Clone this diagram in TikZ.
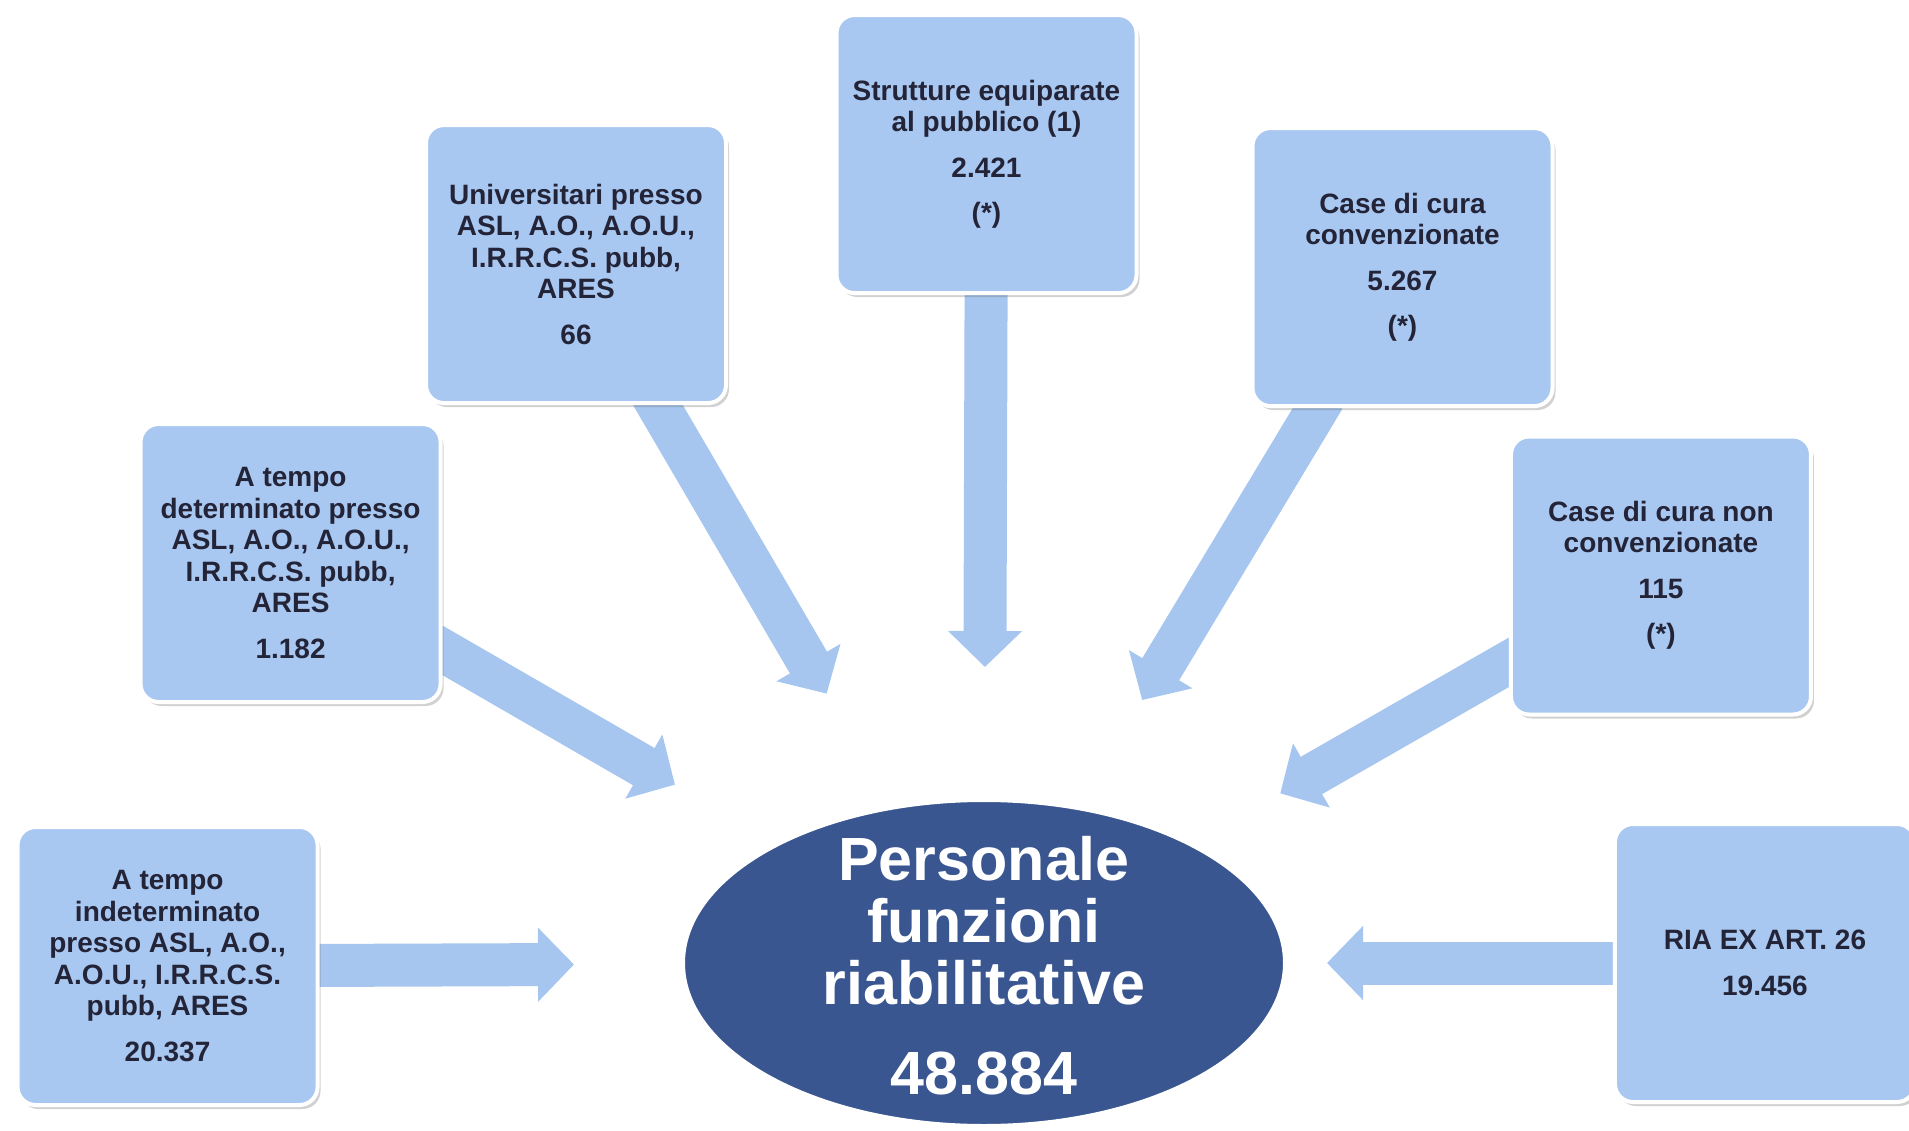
\documentclass[tikz,border=0pt]{standalone}
\usepackage{fontspec}
\setmainfont{Liberation Sans}
\usepackage{tikz}
\usetikzlibrary{shapes.geometric,arrows.meta,shadows,backgrounds}

\definecolor{boxblue}{RGB}{169,200,241}
\definecolor{arrowblue}{RGB}{166,198,240}
\definecolor{hubblue}{RGB}{58,86,145}
\definecolor{inkblue}{RGB}{36,36,56}

\tikzset{
  src/.style={rectangle, rounded corners=18pt, fill=boxblue, draw=white, line width=4pt,
    minimum width=300pt, minimum height=278pt, align=center, text=inkblue,
    font=\fontsize{28}{31.5}\selectfont\bfseries,
    drop shadow={shadow xshift=3pt, shadow yshift=-4pt, opacity=.3, fill=black!60}},
  hub/.style={ellipse, fill=hubblue, draw=white, line width=2pt,
    minimum width=600pt, minimum height=324pt},
  hubtext/.style={align=center, text=white, font=\fontsize{61}{62}\selectfont\bfseries},
  flow/.style={arrowblue, line width=43pt, -{Triangle[length=36pt,width=72pt]}, shorten <=-12pt}
}

\begin{document}
\begin{tikzpicture}[x=1pt,y=-1pt]
      \useasboundingbox (0,0) rectangle (1909,1131);

      \node[hub] (0) at (984,963) {};
      \node[hubtext, yshift=-3pt] (0t) at (0) {Personale\\funzioni\\riabilitative\\[28pt]48.884};

      \node[src, left of=0, xshift=-788pt, yshift=-3pt] (1) {A tempo\\indeterminato\\presso ASL, A.O.,\\A.O.U., I.R.R.C.S.\\pubb, ARES\\[14pt]20.337};
      \node[src, left of=0, xshift=-665pt, yshift=400pt] (2) {A tempo\\determinato presso\\ASL, A.O., A.O.U.,\\I.R.R.C.S. pubb,\\ARES\\[14pt]1.182};
      \node[src, above of=0, xshift=-408pt, yshift=670.5pt] (3) {Universitari presso\\ASL, A.O., A.O.U.,\\I.R.R.C.S. pubb,\\ARES\\[14pt]66};
      \node[src, above of=0, xshift=2.5pt, yshift=780.5pt] (4) {Strutture equiparate\\al pubblico (1)\\[14pt]2.421\\[14pt](*)};
      \node[src, above of=0, xshift=418.5pt, yshift=667.5pt] (5) {Case di cura\\convenzionate\\[14pt]5.267\\[14pt](*)};
      \node[src, right of=0, xshift=648.5pt, yshift=387.5pt] (6) {Case di cura non\\convenzionate\\[14pt]115\\[14pt](*)};
      \node[src, right of=0, xshift=752.5pt, yshift=0pt] (7) {RIA EX ART. 26\\[14pt]19.456};

      %% block arrows into the hub
      \begin{scope}[on background layer]
      \draw[flow, shorten >=109pt] (1) -- (0);
      \draw[flow, shorten >=119pt] (2) -- (0);
      \draw[flow, shorten >=132pt] (3) -- (0);
      \draw[flow, shorten >=133pt] (4) -- (0);
      \draw[flow, shorten >=126pt] (5) -- (0);
      \draw[flow, shorten >=103pt] (6) -- (0);
      \draw[flow, shorten >=42pt] (7) -- (0);
      \end{scope}
    \end{tikzpicture}
\end{document}
